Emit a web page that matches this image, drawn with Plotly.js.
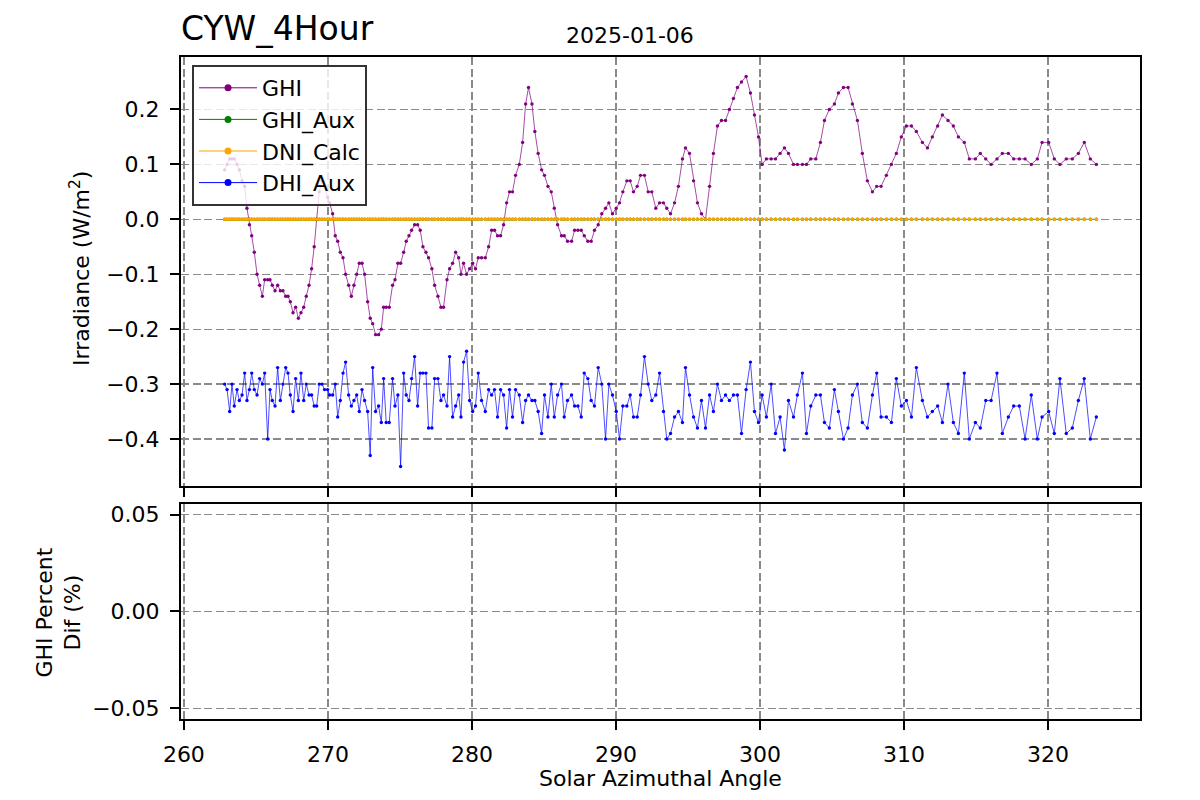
<!DOCTYPE html>
<html>
<head>
<meta charset="utf-8">
<script src="https://cdn.plot.ly/plotly-3.0.1.min.js"></script>
<style>html,body{margin:0;padding:0;background:#fff}#chart{width:1200px;height:800px}</style>
</head>
<body>
<div id="chart"></div>
<script>
// Solar azimuthal angle of each sample (degrees)
const azimuth = [
262.83,263.00,263.18,263.34,263.50,263.69,263.85,264.04,264.22,264.38,
264.55,264.71,264.89,265.08,265.26,265.45,265.61,265.82,265.98,266.14,
266.33,266.51,266.70,266.88,267.07,267.23,267.39,267.58,267.76,267.95,
268.13,268.32,268.50,268.69,268.87,269.05,269.22,269.40,269.59,269.77,
269.98,270.12,270.33,270.51,270.68,270.86,271.05,271.23,271.44,271.63,
271.81,272.00,272.18,272.37,272.55,272.76,272.94,273.11,273.31,273.52,
273.71,273.87,274.05,274.26,274.49,274.66,274.86,275.05,275.26,275.44,
275.63,275.81,276.02,276.23,276.41,276.60,276.81,276.99,277.22,277.41,
277.64,277.85,278.03,278.27,278.45,278.66,278.87,279.08,279.24,279.42,
279.63,279.84,280.05,280.25,280.44,280.67,280.93,281.16,281.37,281.57,
281.78,281.99,282.20,282.41,282.61,282.82,283.03,283.29,283.52,283.73,
283.93,284.17,284.37,284.60,284.84,285.04,285.28,285.51,285.72,285.95,
286.22,286.41,286.64,286.92,287.13,287.36,287.59,287.80,288.05,288.28,
288.51,288.77,289.02,289.28,289.51,289.76,290.02,290.25,290.48,290.76,
290.99,291.22,291.48,291.71,291.98,292.24,292.49,292.77,293.03,293.30,
293.53,293.79,294.07,294.34,294.62,294.83,295.11,295.39,295.66,295.94,
296.22,296.50,296.77,297.05,297.33,297.61,297.88,298.16,298.44,298.72,
299.04,299.34,299.62,299.90,300.15,300.45,300.78,301.08,301.40,301.70,
301.98,302.33,302.60,302.95,303.23,303.53,303.88,304.20,304.48,304.82,
305.17,305.45,305.80,306.12,306.42,306.77,307.11,307.46,307.81,308.11,
308.41,308.78,309.13,309.47,309.82,310.17,310.52,310.86,311.28,311.63,
311.97,312.34,312.67,313.06,313.43,313.78,314.19,314.54,314.96,315.30,
315.68,316.05,316.46,316.83,317.25,317.62,318.01,318.41,318.84,319.26,
319.59,320.05,320.44,320.83,321.27,321.69,322.11,322.52,322.94,323.36
];

const ghi = [
0.09,0.10,0.11,0.11,0.11,0.10,0.09,0.07,0.06,0.02,
-0.01,-0.03,-0.06,-0.10,-0.12,-0.14,-0.11,-0.11,-0.11,-0.12,
-0.13,-0.12,-0.13,-0.13,-0.14,-0.14,-0.15,-0.17,-0.16,-0.18,
-0.17,-0.16,-0.14,-0.12,-0.09,-0.05,0.00,0.05,0.07,0.06,
0.04,0.03,0.01,-0.03,-0.04,-0.06,-0.07,-0.10,-0.12,-0.14,
-0.12,-0.10,-0.08,-0.08,-0.10,-0.15,-0.18,-0.19,-0.21,-0.21,
-0.20,-0.16,-0.16,-0.16,-0.12,-0.11,-0.08,-0.08,-0.06,-0.04,
-0.03,-0.02,-0.01,-0.01,-0.02,-0.05,-0.06,-0.07,-0.09,-0.12,
-0.14,-0.16,-0.16,-0.11,-0.09,-0.08,-0.06,-0.07,-0.10,-0.08,
-0.10,-0.09,-0.08,-0.09,-0.07,-0.07,-0.07,-0.05,-0.02,-0.02,
-0.03,-0.03,-0.01,0.03,0.05,0.05,0.08,0.10,0.14,0.21,
0.24,0.21,0.16,0.12,0.09,0.08,0.06,0.05,0.02,-0.01,
-0.03,-0.03,-0.04,-0.04,-0.02,-0.02,-0.02,-0.03,-0.04,-0.04,
-0.02,-0.01,0.01,0.02,0.03,0.01,0.02,0.03,0.05,0.07,
0.07,0.05,0.06,0.08,0.08,0.05,0.05,0.02,0.03,0.03,
0.02,0.01,0.03,0.06,0.11,0.13,0.12,0.07,0.03,0.01,
0.00,0.06,0.12,0.17,0.18,0.18,0.20,0.22,0.24,0.25,
0.26,0.23,0.19,0.15,0.10,0.11,0.11,0.11,0.12,0.13,
0.12,0.10,0.10,0.10,0.10,0.11,0.11,0.14,0.18,0.20,
0.21,0.23,0.24,0.24,0.21,0.18,0.12,0.07,0.05,0.06,
0.06,0.08,0.10,0.12,0.15,0.17,0.17,0.16,0.14,0.13,
0.15,0.17,0.19,0.18,0.17,0.15,0.14,0.11,0.11,0.12,
0.11,0.10,0.11,0.12,0.12,0.11,0.11,0.11,0.10,0.11,
0.14,0.14,0.11,0.10,0.11,0.11,0.12,0.14,0.11,0.10
];

const ghiAux = [
0,0,0,0,0,0,0,0,0,0,0,0,0,0,0,0,0,0,0,0,
0,0,0,0,0,0,0,0,0,0,0,0,0,0,0,0,0,0,0,0,
0,0,0,0,0,0,0,0,0,0,0,0,0,0,0,0,0,0,0,0,
0,0,0,0,0,0,0,0,0,0,0,0,0,0,0,0,0,0,0,0,
0,0,0,0,0,0,0,0,0,0,0,0,0,0,0,0,0,0,0,0,
0,0,0,0,0,0,0,0,0,0,0,0,0,0,0,0,0,0,0,0,
0,0,0,0,0,0,0,0,0,0,0,0,0,0,0,0,0,0,0,0,
0,0,0,0,0,0,0,0,0,0,0,0,0,0,0,0,0,0,0,0,
0,0,0,0,0,0,0,0,0,0,0,0,0,0,0,0,0,0,0,0,
0,0,0,0,0,0,0,0,0,0,0,0,0,0,0,0,0,0,0,0,
0,0,0,0,0,0,0,0,0,0,0,0,0,0,0,0,0,0,0,0,
0,0,0,0,0,0,0,0,0,0,0,0,0,0,0,0,0,0,0,0
];

const dniCalc = [
0,0,0,0,0,0,0,0,0,0,0,0,0,0,0,0,0,0,0,0,
0,0,0,0,0,0,0,0,0,0,0,0,0,0,0,0,0,0,0,0,
0,0,0,0,0,0,0,0,0,0,0,0,0,0,0,0,0,0,0,0,
0,0,0,0,0,0,0,0,0,0,0,0,0,0,0,0,0,0,0,0,
0,0,0,0,0,0,0,0,0,0,0,0,0,0,0,0,0,0,0,0,
0,0,0,0,0,0,0,0,0,0,0,0,0,0,0,0,0,0,0,0,
0,0,0,0,0,0,0,0,0,0,0,0,0,0,0,0,0,0,0,0,
0,0,0,0,0,0,0,0,0,0,0,0,0,0,0,0,0,0,0,0,
0,0,0,0,0,0,0,0,0,0,0,0,0,0,0,0,0,0,0,0,
0,0,0,0,0,0,0,0,0,0,0,0,0,0,0,0,0,0,0,0,
0,0,0,0,0,0,0,0,0,0,0,0,0,0,0,0,0,0,0,0,
0,0,0,0,0,0,0,0,0,0,0,0,0,0,0,0,0,0,0,0
];

const dhiAux = [
-0.30,-0.31,-0.35,-0.30,-0.34,-0.31,-0.33,-0.32,-0.28,-0.33,
-0.31,-0.28,-0.31,-0.32,-0.29,-0.30,-0.28,-0.40,-0.31,-0.33,
-0.34,-0.27,-0.33,-0.30,-0.27,-0.28,-0.32,-0.35,-0.29,-0.33,
-0.28,-0.33,-0.30,-0.32,-0.32,-0.34,-0.34,-0.30,-0.30,-0.31,
-0.31,-0.32,-0.32,-0.30,-0.36,-0.33,-0.28,-0.26,-0.32,-0.34,
-0.33,-0.32,-0.35,-0.31,-0.33,-0.35,-0.43,-0.27,-0.35,-0.34,
-0.37,-0.29,-0.37,-0.37,-0.29,-0.34,-0.32,-0.45,-0.28,-0.32,
-0.33,-0.29,-0.25,-0.34,-0.28,-0.28,-0.28,-0.38,-0.38,-0.29,
-0.29,-0.33,-0.32,-0.34,-0.25,-0.36,-0.34,-0.32,-0.36,-0.26,
-0.24,-0.33,-0.35,-0.34,-0.28,-0.33,-0.35,-0.31,-0.32,-0.31,
-0.36,-0.31,-0.32,-0.38,-0.31,-0.36,-0.31,-0.32,-0.37,-0.33,
-0.32,-0.33,-0.33,-0.35,-0.39,-0.32,-0.36,-0.30,-0.36,-0.32,
-0.30,-0.36,-0.33,-0.32,-0.34,-0.34,-0.36,-0.28,-0.29,-0.33,
-0.34,-0.27,-0.30,-0.40,-0.30,-0.32,-0.35,-0.40,-0.34,-0.34,
-0.32,-0.36,-0.36,-0.32,-0.25,-0.30,-0.33,-0.32,-0.28,-0.35,
-0.40,-0.39,-0.36,-0.35,-0.37,-0.27,-0.32,-0.36,-0.38,-0.33,
-0.38,-0.32,-0.35,-0.30,-0.33,-0.32,-0.33,-0.32,-0.32,-0.39,
-0.31,-0.26,-0.35,-0.37,-0.32,-0.36,-0.30,-0.39,-0.36,-0.42,
-0.33,-0.36,-0.32,-0.28,-0.39,-0.34,-0.32,-0.32,-0.37,-0.38,
-0.31,-0.35,-0.40,-0.38,-0.32,-0.30,-0.37,-0.38,-0.32,-0.28,
-0.36,-0.36,-0.37,-0.29,-0.34,-0.33,-0.36,-0.27,-0.33,-0.36,
-0.35,-0.34,-0.37,-0.30,-0.37,-0.39,-0.28,-0.40,-0.37,-0.38,
-0.33,-0.33,-0.28,-0.39,-0.36,-0.34,-0.34,-0.40,-0.32,-0.40,
-0.36,-0.35,-0.39,-0.29,-0.39,-0.38,-0.33,-0.29,-0.40,-0.36
];

// GHI percent difference (GHI_Aux is zero everywhere, so nothing is drawn)
const ghiPercentDifX = [];
const ghiPercentDif = [];

const seriesNames = ['GHI', 'GHI_Aux', 'DNI_Calc', 'DHI_Aux'];
const seriesColors = ['#800080', '#008000', '#FFA500', '#0000FF'];
const xTicks = [260, 270, 280, 290, 300, 310, 320];
const yTicksTop = [-0.4, -0.3, -0.2, -0.1, 0.0, 0.1, 0.2];
const yTicksBottom = [-0.05, 0.0, 0.05];
const chartTitle = 'CYW_4Hour';
const dateLabel = '2025-01-06';

const seriesY = [ghi, ghiAux, dniCalc, dhiAux];
const traces = [];
seriesY.forEach((y, i) => {
  traces.push({
    type: 'scatter', mode: 'lines+markers', x: azimuth, y: y,
    name: seriesNames[i], legendgroup: seriesNames[i], showlegend: false,
    line: {color: seriesColors[i], width: 0.7},
    marker: {color: seriesColors[i], size: 3.4},
    xaxis: 'x', yaxis: 'y', hoverinfo: 'skip'
  });
});
// legend entries (bigger markers as in the reference legend)
seriesNames.forEach((n, i) => {
  traces.push({
    type: 'scatter', mode: 'lines+markers', x: [null], y: [null],
    name: n, legendgroup: n, showlegend: true,
    line: {color: seriesColors[i], width: 1},
    marker: {color: seriesColors[i], size: 7},
    xaxis: 'x', yaxis: 'y'
  });
});
traces.push({
  type: 'scatter', mode: 'lines+markers', x: ghiPercentDifX, y: ghiPercentDif,
  name: 'GHI Percent Dif', showlegend: false,
  line: {color: '#800080', width: 0.7}, marker: {size: 3.4},
  xaxis: 'x2', yaxis: 'y2'
});

const FONT = 'DejaVu Sans, Arial, sans-serif';
const FS = 22;
const common = {
  showgrid: true, gridcolor: '#8a8a8a', gridwidth: 1.3, griddash: '8px,3.5px',
  zeroline: false, showline: true, linecolor: '#000', linewidth: 2, mirror: true,
  ticks: 'outside', ticklen: 9, tickwidth: 2, tickcolor: '#000',
  tickfont: {family: FONT, size: FS, color: '#000'}, ticklabelstandoff: 6
};
const xRange = [259.80, 326.39];

const layout = {
  width: 1200, height: 800,
  paper_bgcolor: '#fff', plot_bgcolor: '#fff',
  font: {family: FONT, color: '#000'},
  margin: {l: 181, r: 60, t: 57, b: 81},
  title: {text: chartTitle, font: {family: FONT, size: 33, color: '#000'},
          x: 181 / 1200, xanchor: 'left', xref: 'container',
          y: 1 - 28 / 800, yanchor: 'middle', yref: 'container'},
  showlegend: true,
  legend: {x: 0.0115, y: (719 - 65) / 662, xanchor: 'left', yanchor: 'top',
           bgcolor: 'rgba(255,255,255,0.8)', bordercolor: '#333', borderwidth: 2,
           font: {family: FONT, size: FS, color: '#000'}, itemwidth: 58, tracegroupgap: 0},
  xaxis: Object.assign({}, common, {domain: [0, 1], anchor: 'y', range: xRange,
           tickvals: xTicks, showticklabels: false}),
  yaxis: Object.assign({}, common, {domain: [0.352, 1], anchor: 'x', range: [-0.4855, 0.2955],
           tickvals: yTicksTop, tickformat: '.1f'}),
  xaxis2: Object.assign({}, common, {domain: [0, 1], anchor: 'y2', range: xRange,
           tickvals: xTicks, tickformat: 'd'}),
  yaxis2: Object.assign({}, common, {domain: [0, 0.3248], anchor: 'x2', range: [-0.0555, 0.0555],
           tickvals: yTicksBottom, tickformat: '.2f'}),
  annotations: [
    {text: dateLabel, xref: 'paper', yref: 'paper', x: (629.5 - 181) / 959, y: (719 - 36) / 662,
     xanchor: 'center', yanchor: 'middle', showarrow: false, font: {family: FONT, size: FS, color: '#000'}},
    {text: 'Solar Azimuthal Angle', xref: 'paper', yref: 'paper', x: (660 - 181) / 959, y: (719 - 778) / 662,
     xanchor: 'center', yanchor: 'middle', showarrow: false, font: {family: FONT, size: FS, color: '#000'}},
    {text: 'Irradiance (W/m<sup>2</sup>)', xref: 'paper', yref: 'paper', x: (80 - 181) / 959, y: (719 - 269) / 662,
     xanchor: 'center', yanchor: 'middle', textangle: -90, showarrow: false, font: {family: FONT, size: FS, color: '#000'}},
    {text: 'GHI Percent<br>Dif (%)', xref: 'paper', yref: 'paper', x: (58.5 - 181) / 959, y: (719 - 612) / 662,
     xanchor: 'center', yanchor: 'middle', textangle: -90, showarrow: false, font: {family: FONT, size: FS, color: '#000'}}
  ]
};

Plotly.newPlot('chart', traces, layout, {staticPlot: true, displayModeBar: false});
</script>
</body>
</html>
